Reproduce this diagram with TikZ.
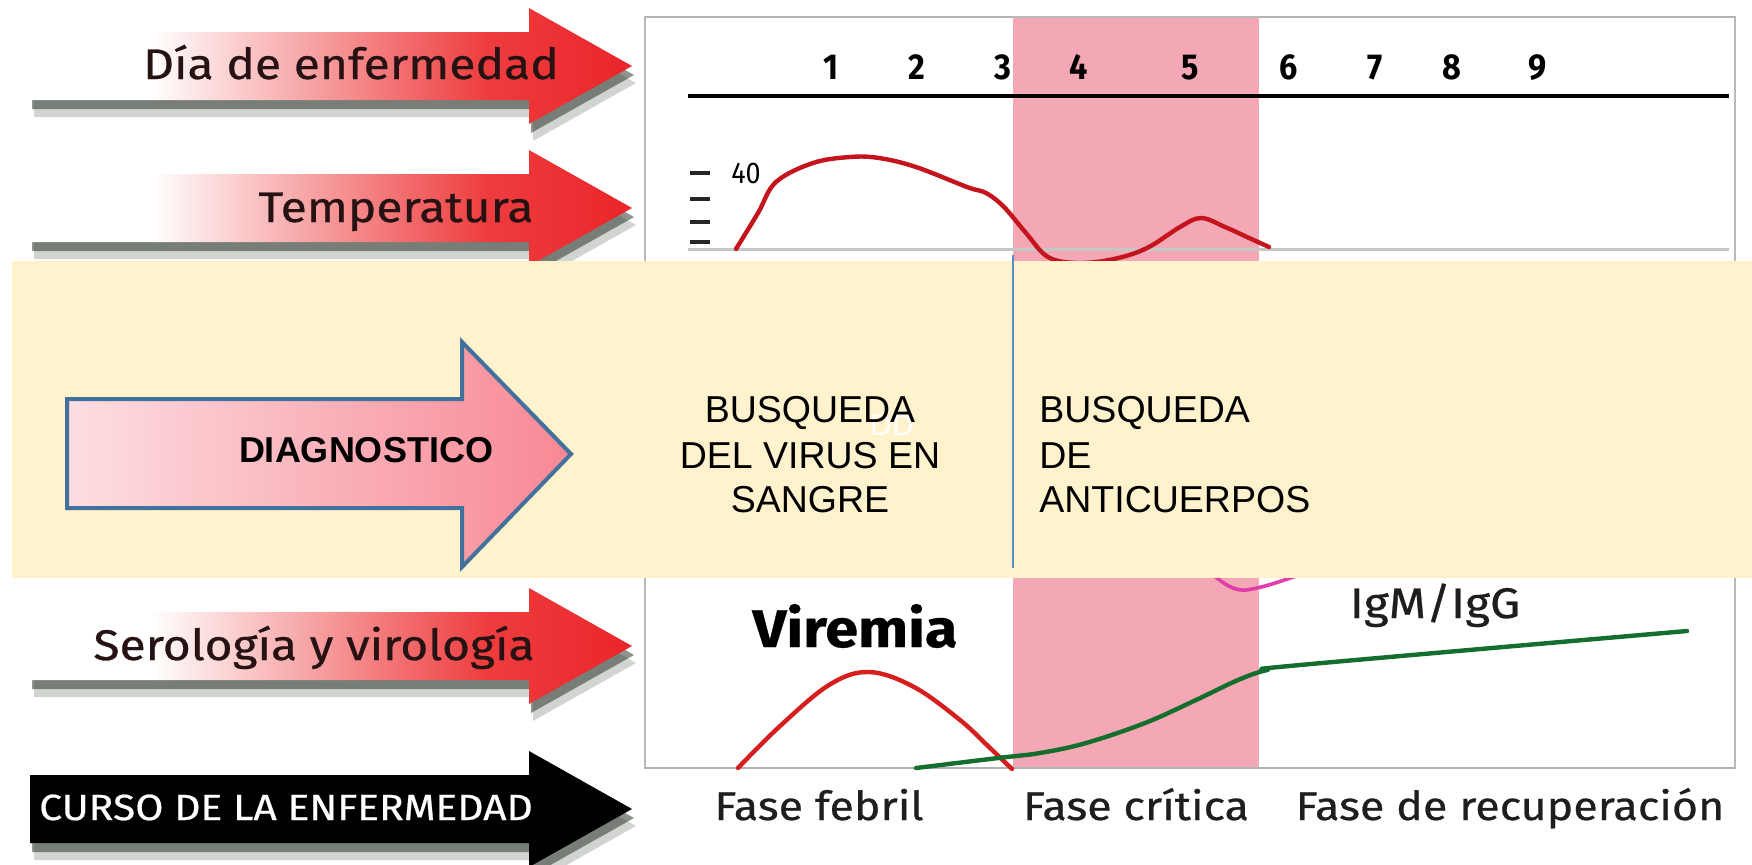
\documentclass[tikz,border=0pt]{standalone}
\usepackage{fontspec}
\setmainfont{Liberation Sans}
\newfontfamily\hum[FakeStretch=1.12, FakeBold=0.6]{Fira Sans}
\newfontfamily\numf[FakeStretch=0.9]{Fira Sans}
\definecolor{beige}{RGB}{255,242,204}
\definecolor{pinkband}{RGB}{244,168,181}
\definecolor{arrowred}{RGB}{234,38,42}
\definecolor{arrowredA}{RGB}{238,60,62}
\definecolor{lbltext}{RGB}{38,18,18}
\definecolor{phtext}{RGB}{30,30,30}
\definecolor{tempred}{RGB}{196,20,30}
\definecolor{virred}{RGB}{214,30,30}
\definecolor{igg}{RGB}{20,110,45}
\definecolor{igm}{RGB}{225,60,170}
\definecolor{diagL}{RGB}{252,222,226}
\definecolor{diagR}{RGB}{248,136,148}
\definecolor{diagline}{RGB}{65,113,156}
\definecolor{bluel}{RGB}{91,142,196}
\definecolor{shadowc}{RGB}{30,40,30}
\pgfdeclarehorizontalshading{redarrowshade}{100bp}{color(0bp)=(white); color(25bp)=(white); color(35bp)=(white); color(63bp)=(arrowredA); color(75bp)=(arrowred); color(100bp)=(arrowred)}
\begin{document}
\begin{tikzpicture}[x=0.5pt,y=-0.5pt,
  arrowshape/.style={insert path={(30,#1-34) -- (529,#1-34) -- (529,#1-58) -- (632,#1) -- (529,#1+58) -- (529,#1+34) -- (30,#1+34) -- cycle}},
  shadowA/.style={fill=shadowc, opacity=0.5},
  shadowB/.style={fill=shadowc, opacity=0.2},
  redarrow/.style={shading=redarrowshade},
  lbl/.style={font=\hum\fontsize{21.4}{25}\selectfont, text=lbltext, inner sep=0, anchor=base},
  phase/.style={font=\hum\fontsize{20}{24}\selectfont, text=phtext, inner sep=0, anchor=base},
  daynum/.style={font=\numf\bfseries\fontsize{18}{21}\selectfont, inner sep=0, anchor=base},
  bus/.style={font=\fontsize{18.75}{22.5}\selectfont, inner sep=0, anchor=base},
  curve/.style={line width=2.2pt, line cap=round, line join=round}
]
\useasboundingbox (0,0) rectangle (1752,864);
\fill[white] (0,0) rectangle (1752,864);

% ---- chart frame and critical band
\fill[pinkband] (1013,17) rectangle (1259,768);
\draw[gray!55, line width=0.75pt] (645,17) rectangle (1735,768);
\draw[gray!60, line width=1.2pt] (645,17) -- (1013,17) (1259,17) -- (1735,17);
\draw[gray!60, line width=1.2pt] (645,768) -- (1735,768);

% ---- day axis
\draw[black, line width=2.2pt] (688,96) -- (1729,96);
\foreach \n/\xx in {1/831,2/917,3/1003,4/1079,5/1190,6/1289,7/1375,8/1452,9/1538}
  \node[daynum] (d\n) at (\xx,79) {\n};

% ---- temperature
\draw[gray!45, line width=1.5pt] (688,249) -- (1729,249);
\foreach \yy in {173,199,222,242}
  \draw[black!85, line width=1.6pt] (690,\yy) -- (710,\yy);
\node[font=\numf\fontsize{15}{17}\selectfont, inner sep=0] (t40) at (746,173) {40};
\draw[tempred, curve] plot[smooth, tension=0.6] coordinates {(736,249) (758,213) (776,182) (813,163) (850,157) (879,158) (916,167) (967,187) (986,193) (1004,207) (1026,233) (1048,257) (1078,263) (1114,259) (1147,248) (1180,227) (1201,218) (1225,227) (1247,237) (1269,247)};

% ---- serology / virology
\draw[igm, line width=1.8pt] plot[smooth, tension=0.7] coordinates {(1210,572) (1233,588) (1257,588) (1302,574)};
\draw[virred, curve] plot[smooth, tension=0.6] coordinates {(738,768) (779,727) (829,685) (869,672) (914,687) (960,720) (989,747) (1012,769)};
\draw[igg, curve] plot[smooth, tension=0.6] coordinates {(916,768) (998,758) (1040,753) (1086,743) (1145,723) (1196,700) (1238,680) (1267,670) (1300,665) (1687,631)};
\node[font=\hum\bfseries\fontsize{26.5}{30}\selectfont, inner sep=0, anchor=base] (vir) at (855,647) {Viremia};
\node[lbl, text=phtext] (igmg) at (1435,618) {IgM/IgG};

% ---- phases
\node[phase] (ph1) at (819,820) {Fase febril};
\node[phase] (ph2) at (1136,820) {Fase crítica};
\node[phase] (ph3) at (1510,820) {Fase de recuperación};

% ---- left arrows
\foreach \yc in {66,208,646}{
  \path[shadowB, shift={(4,17)}] [arrowshape=\yc];
  \path[shadowA, shift={(2,9)}] [arrowshape=\yc];
  \path[redarrow] [arrowshape=\yc];
}
\path[shadowB, shift={(4,17)}] [arrowshape=809];
\path[shadowA, shift={(2,9)}] [arrowshape=809];
\path[fill=black] [arrowshape=809];
\node[lbl] (ldia) at (351,79) {Día de enfermedad};
\node[lbl] (ltemp) at (396,222) {Temperatura};
\node[lbl] (lsero) at (314,660) {Serología y virología};
\node[lbl, text=white, font=\hum\fontsize{18.2}{21}\selectfont] (lcurso) at (286,820) {CURSO DE LA ENFERMEDAD};

% ---- overlay box
\fill[beige] (12,261) rectangle (1752,578);
\draw[bluel, line width=0.8pt] (1013,255) -- (1013,568);
\draw[diagline, line width=2pt, line join=miter, left color=diagL, right color=diagR]
  (67,399) -- (462,399) -- (462,342) -- (571,454) -- (462,567) -- (462,508) -- (67,508) -- cycle;
\node[font=\bfseries\fontsize{18}{21}\selectfont, inner sep=0, anchor=base] (diag) at (366,462) {DIAGNOSTICO};
\node[font=\fontsize{15}{18}\selectfont, text=white, inner sep=0, anchor=base] (ghost) at (892,435) {DD};
\node[bus] (ba1) at (810,422) {BUSQUEDA};
\node[bus] (ba2) at (810,468) {DEL VIRUS EN};
\node[bus] (ba3) at (810,512) {SANGRE};
\node[bus, anchor=base west] (bb1) at (1039,422) {BUSQUEDA};
\node[bus, anchor=base west] (bb2) at (1039,468) {DE};
\node[bus, anchor=base west] (bb3) at (1039,512) {ANTICUERPOS};
\end{tikzpicture}
\end{document}
